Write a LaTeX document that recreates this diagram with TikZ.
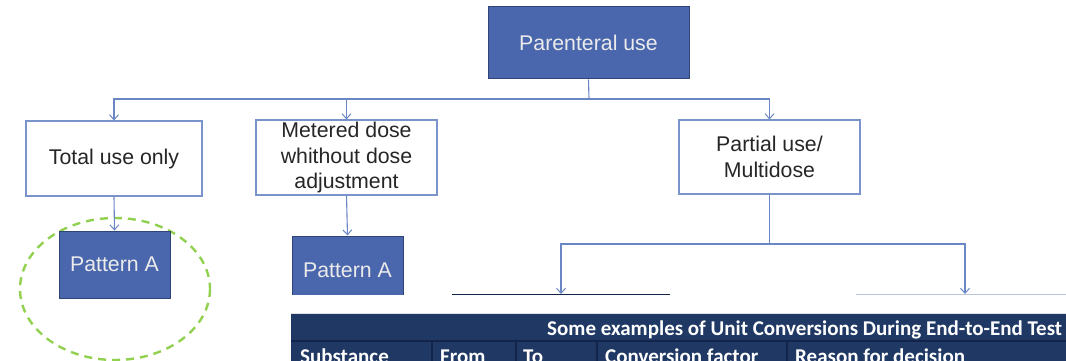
\documentclass[tikz,border=0pt]{standalone}
\usepackage{fontspec}
\setmainfont{Liberation Sans}
\newfontfamily\tablefont{Carlito}
\usetikzlibrary{arrows.meta}

\definecolor{patfill}{HTML}{4A66AC}
\definecolor{patedge}{HTML}{2F4575}
\definecolor{boxedge}{HTML}{7A93CA}
\definecolor{connline}{HTML}{6B86C4}
\definecolor{navy}{HTML}{203864}
\definecolor{navyline}{HTML}{12244A}
\definecolor{paleline}{HTML}{BCC4DC}
\definecolor{ringgreen}{HTML}{92D050}
\definecolor{bodytext}{HTML}{262626}

\tikzset{
  x=1pt, y=-1pt,
  whitebox/.style={draw=boxedge, line width=1.1pt, fill=white, text=bodytext,
    align=center, inner sep=0pt, font=\fontsize{21.3}{25.8}\selectfont},
  patbox/.style={draw=patedge, line width=1pt, fill=patfill, text=white!92!black,
    align=center, inner sep=0pt, font=\fontsize{21.3}{25}\selectfont},
  conn/.style={draw=connline, line width=1.1pt},
  connarrow/.style={conn, -{Straight Barb[length=5pt,width=9pt,line width=1pt]}},
  hdrtext/.style={text=white, inner sep=0pt, font=\tablefont\bfseries\fontsize{21}{22}\selectfont},
}

\begin{document}
\begin{tikzpicture}
\useasboundingbox (0,0) rectangle (1066,361);
\clip (0,0) rectangle (1066,361);

% dashed highlight ring behind the first pattern box
\draw[ringgreen, line width=2.4pt, dash pattern=on 8pt off 6pt]
  (115,289) ellipse [x radius=95, y radius=71];

% top level
\node[patbox, minimum width=201pt, minimum height=72pt] (par) at (588.5,43) {Parenteral use};

% second level
\node[whitebox, minimum width=176pt, minimum height=75pt] (tot) at (114,158.5) {Total use only};
\node[whitebox, minimum width=181pt, minimum height=75pt] (met) at (346.5,157.5)
  {Metered dose\\whithout dose\\adjustment};
\node[whitebox, minimum width=181pt, minimum height=74pt] (part) at (769.5,157) {Partial use/\\Multidose};

% third level
\node[patbox, minimum width=111pt, minimum height=67pt] (pa1) at (114.5,264.5) {Pattern A};
\begin{scope}
  \clip (0,0) rectangle (1066,294.5);
  \node[patbox, minimum width=111pt, minimum height=68pt] (pa2) at (347.5,270) {Pattern A};
\end{scope}

% connectors from the top box
\coordinate (bus) at (589,99);
\draw[conn] (par.south) -- (bus);
\draw[connarrow] (bus) -| (tot.north);
\draw[connarrow] (bus) -| (met.north);
\draw[connarrow] (bus) -| (part.north);

% connectors to the pattern boxes
\draw[connarrow] (tot.south) -- (pa1.north);
\draw[connarrow] (met.south) -- (pa2.north);

% split below the multidose box
\coordinate (split) at (769.5,244);
\coordinate (leftend) at (561,294);
\coordinate (rightend) at (965,294);
\draw[conn] (part.south) -- (split);
\draw[connarrow] (split) -| (leftend);
\draw[connarrow] (split) -| (rightend);

% rules under the split arrows
\draw[navyline, line width=1.6pt] (452,294.5) -- (670,294.5);
\draw[paleline, line width=1.2pt] (856,294.5) -- (1066,294.5);

% conversion table (its lower rows run past the bottom edge)
\fill[black!12] (291,312.5) rectangle (1066,314);
\fill[navy] (291,314) rectangle (1066,361);
\draw[navyline, line width=1.6pt] (291,341) -- (1066,341);
\foreach \cx in {432,516,597,787}
  \draw[navyline, line width=1.4pt] (\cx,341) -- (\cx,361);
\node[hdrtext, anchor=base west] (ttl) at (547,335)
  {Some examples of Unit Conversions During End-to-End Test};
\node[hdrtext, anchor=base west] (c1) at (300,363) {Substance};
\node[hdrtext, anchor=base west] (c2) at (440,363) {From};
\node[hdrtext, anchor=base west] (c3) at (523,363) {To};
\node[hdrtext, anchor=base west] (c4) at (605,363) {Conversion factor};
\node[hdrtext, anchor=base west] (c5) at (795,363) {Reason for decision};
\end{tikzpicture}
\end{document}
